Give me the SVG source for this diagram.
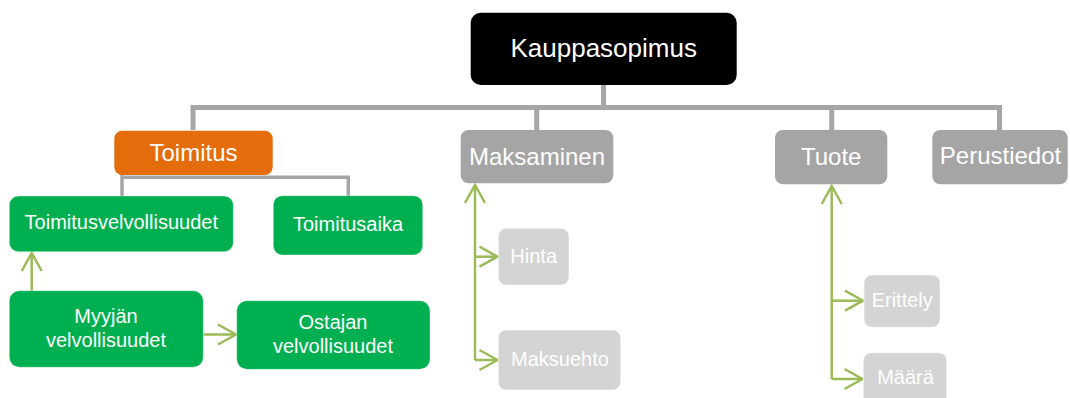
<svg xmlns="http://www.w3.org/2000/svg" width="1070" height="398" viewBox="0 0 1070 398">
<style>
text{font-family:"Liberation Sans",Arial,sans-serif;fill:#FFFFFF;text-anchor:middle}
.big{font-size:26px}
.mid{font-size:24px}
.sm{font-size:20px}
.tree{fill:none;stroke:#A6A6A6;stroke-width:5}
.sub{fill:none;stroke:#A6A6A6;stroke-width:3.5}
.arr{fill:none;stroke:#9BBB59;stroke-width:2.5;marker-end:url(#ah)}
.blk{fill:#000000}
.org{fill:#E46C0A}
.gry{fill:#A5A5A5}
.grn{fill:#00B050;stroke:#FFFFFF;stroke-opacity:0.35;stroke-width:1}
.lgt{fill:#D4D4D4;stroke:#FFFFFF;stroke-opacity:0.5;stroke-width:1}
</style>
<defs>
<marker id="ah" viewBox="0 0 22 24" refX="20" refY="12" markerWidth="22" markerHeight="24" markerUnits="userSpaceOnUse" orient="auto">
<path d="M2,2 L20,12 L2,22" fill="none" stroke="#9BBB59" stroke-width="2.5"/>
</marker>
</defs>
<g id="connectors">
<path class="tree" d="M603.5,85 V107.5"/>
<path class="tree" d="M193,130 V107.5 H999.5 V130"/>
<path class="tree" d="M536.7,107.5 V130"/>
<path class="tree" d="M831.7,107.5 V130"/>
<path class="sub" d="M122,170 V196"/>
<path class="sub" d="M122,177.3 H348.3 V196"/>
<path class="arr" d="M31.7,290.7 V253"/>
<path class="arr" d="M203.3,334.5 H236"/>
<path class="arr" d="M475,360 V185"/>
<path class="arr" d="M475,256.7 H497.5"/>
<path class="arr" d="M475,360 H497.5"/>
<path class="arr" d="M831.7,379 V186"/>
<path class="arr" d="M831.7,300.7 H863"/>
<path class="arr" d="M831.7,379 H862.5"/>
</g>
<g id="kauppasopimus"><rect class="blk" x="470.7" y="12.7" width="266" height="72.3" rx="10"/><text class="big" x="603.7" y="57">Kauppasopimus</text></g>
<g id="toimitus"><rect class="org" x="114.3" y="130.7" width="158.4" height="44.3" rx="8"/><text class="mid" x="193.5" y="161">Toimitus</text></g>
<g id="maksaminen"><rect class="gry" x="460.7" y="130" width="152.6" height="53.3" rx="8"/><text class="mid" x="537" y="165">Maksaminen</text></g>
<g id="tuote"><rect class="gry" x="775" y="130" width="112.3" height="54.3" rx="8"/><text class="mid" x="831.2" y="165">Tuote</text></g>
<g id="perustiedot"><rect class="gry" x="932.3" y="130" width="135.4" height="54.3" rx="8"/><text class="mid" x="1000.5" y="164">Perustiedot</text></g>
<g id="toimitusvelvollisuudet"><rect class="grn" x="9.3" y="196" width="224" height="55.7" rx="9"/><text class="sm" x="121.3" y="229.3">Toimitusvelvollisuudet</text></g>
<g id="toimitusaika"><rect class="grn" x="273.3" y="195.7" width="149.4" height="59.3" rx="9"/><text class="sm" x="348" y="230.7">Toimitusaika</text></g>
<g id="myyjan"><rect class="grn" x="9.3" y="290.7" width="194" height="76.6" rx="10"/><text class="sm" x="106" y="322.7">Myyjän</text><text class="sm" x="106" y="346.7">velvollisuudet</text></g>
<g id="ostajan"><rect class="grn" x="236.7" y="300.7" width="193.3" height="68.6" rx="10"/><text class="sm" x="333" y="329.3">Ostajan</text><text class="sm" x="333" y="352.7">velvollisuudet</text></g>
<g id="hinta"><rect class="lgt" x="498.3" y="228.3" width="70.7" height="56.7" rx="8"/><text class="sm" x="533.7" y="262.7">Hinta</text></g>
<g id="maksuehto"><rect class="lgt" x="498.3" y="330" width="122.4" height="60" rx="8"/><text class="sm" x="560" y="365.7">Maksuehto</text></g>
<g id="erittely"><rect class="lgt" x="864" y="275" width="76" height="52.3" rx="8"/><text class="sm" x="902.2" y="306.7">Erittely</text></g>
<g id="maara"><rect class="lgt" x="863.3" y="352.7" width="83.4" height="60" rx="8"/><text class="sm" x="905.5" y="384">Määrä</text></g>
</svg>
